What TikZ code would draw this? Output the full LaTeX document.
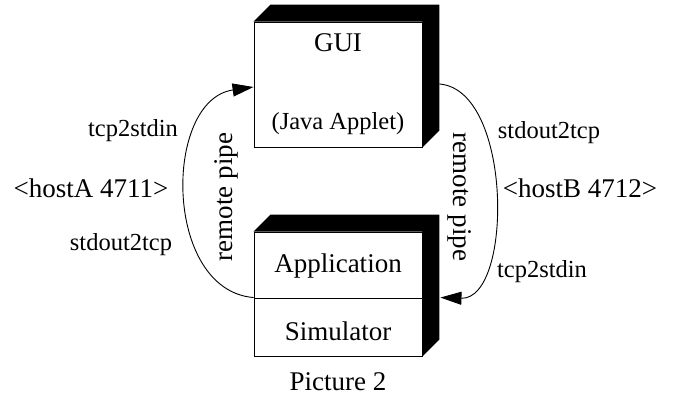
\documentclass[tikz,border=0pt]{standalone}
\usepackage{fontspec}
\setmainfont{Liberation Serif}
\usetikzlibrary{arrows.meta}
\begin{document}
\begin{tikzpicture}[x=1pt,y=-1pt,
  big/.style={font=\fontsize{27}{32}\selectfont, inner sep=0pt},
  small/.style={font=\fontsize{24.5}{29}\selectfont, inner sep=0pt},
  front/.style={draw, line width=0.9pt, fill=white, inner sep=0pt, minimum width=168pt},
  pipe/.style={line width=0.9pt, -{Triangle[length=21pt,width=13pt]}}]
\useasboundingbox (0,0) rectangle (673,396);
% GUI box
\node[front, minimum height=125pt] (gui) at (338,84.5) {};
\fill (gui.north west) -- ++(17,-17) -| ([shift={(17,-17)}]gui.south east) -- (gui.south east) -- (gui.north east) -- cycle;
\node[big] (guit) at (338,43) {GUI};
\node[small] (java) at (338,124) {(Java Applet)};
% Application / Simulator box
\node[front, minimum height=66pt] (app) at (338,265) {};
\node[front, minimum height=58pt] (sim) at (338,327) {};
\fill (app.north west) -- ++(17,-17) -| ([shift={(17,-17)}]sim.south east) -- (sim.south east) -- (app.north east) -- cycle;
\node[big] (appt) at (338,266) {Application};
\node[big] (simt) at (338,331) {Simulator};
% connectors
\coordinate (ls) at (sim.north west);
\coordinate (le) at ([yshift=-2.5pt]gui.west);
\coordinate (rs) at ([shift={(17,-0.5)}]gui.east);
\coordinate (re) at ([xshift=18pt]sim.north east);
\draw[pipe] (ls) .. controls (163,290) and (163,100) .. (le);
\draw[pipe] (rs) .. controls (513,90) and (513,300) .. (re);
\node[big, rotate=90] (rpl) at (226,197) {remote pipe};
\node[big, rotate=-90] (rpr) at (460,197) {remote pipe};
% labels
\node[small, anchor=base] (l1) at (133,137) {tcp2stdin};
\node[big, anchor=base] (l2) at (91,197) {<hostA 4711>};
\node[small, anchor=base] (l3) at (121,250) {stdout2tcp};
\node[small, anchor=base] (r1) at (549,139) {stdout2tcp};
\node[big, anchor=base] (r2) at (580,197) {<hostB 4712>};
\node[small, anchor=base] (r3) at (542,277) {tcp2stdin};
\node[big, anchor=base] (cap) at (338,390) {Picture 2};
\end{tikzpicture}
\end{document}
